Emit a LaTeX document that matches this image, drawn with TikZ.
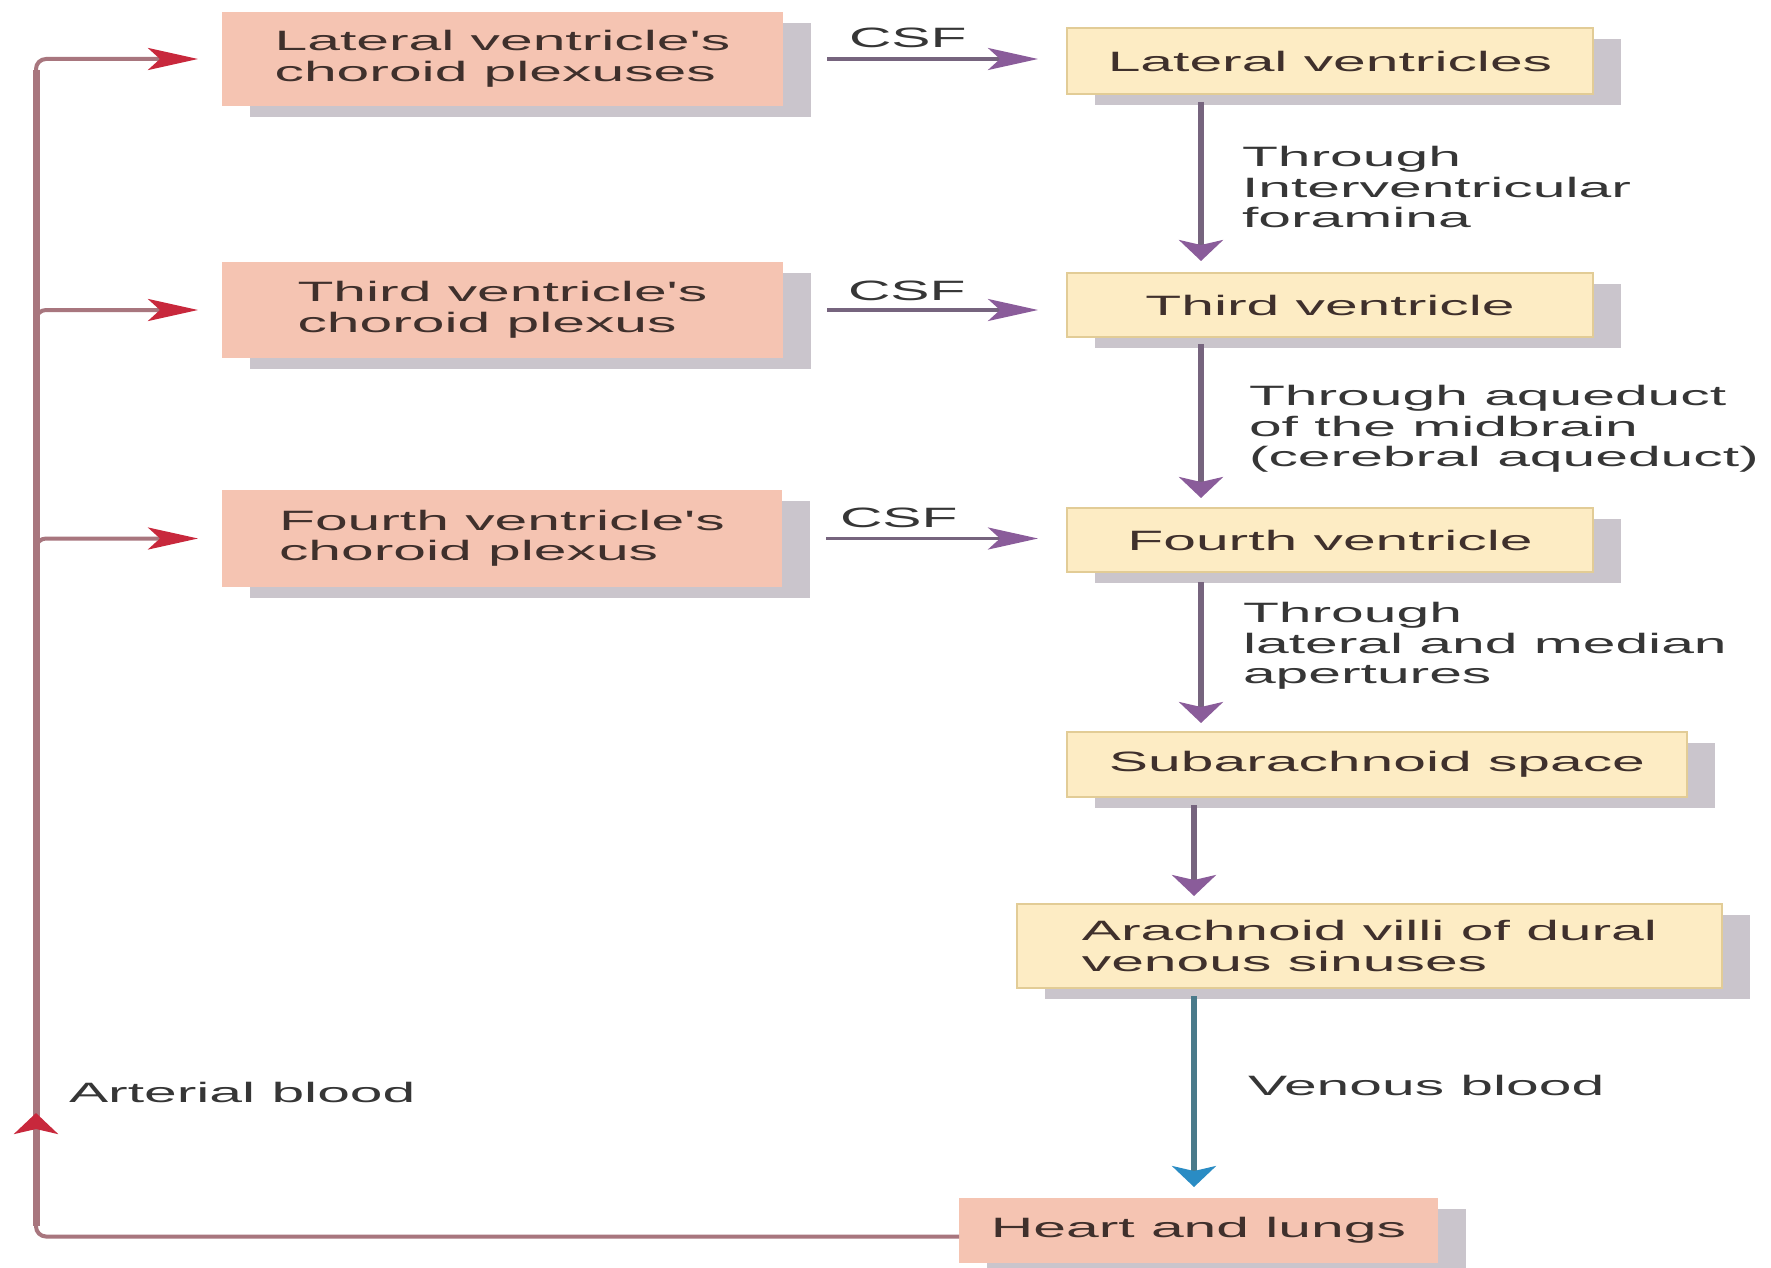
\documentclass[tikz,border=0pt]{standalone}
\usepackage{fontspec}
\setmainfont{Liberation Sans}
\newfontfamily\widesans[FakeStretch=2.1]{Liberation Sans}
\usetikzlibrary{arrows.meta,shadows,calc}
\definecolor{pinkface}{HTML}{F5C4B2}
\definecolor{shadowgray}{HTML}{CAC5CC}
\definecolor{yellowface}{HTML}{FDECC4}
\definecolor{yellowedge}{HTML}{E2CC96}
\definecolor{boxtext}{HTML}{3F302C}
\definecolor{lbltext}{HTML}{363636}
\definecolor{redln}{HTML}{A8767E}
\definecolor{redhead}{HTML}{C8283C}
\definecolor{purpleln}{HTML}{76647E}
\definecolor{purplehead}{HTML}{8A5C9A}
\definecolor{blueln}{HTML}{4A7A8A}
\definecolor{bluehead}{HTML}{2A8CC4}
\begin{document}
\begin{tikzpicture}[x=1pt,y=-1pt,
  every node/.style={inner sep=0pt, outer sep=0pt, font=\widesans\fontsize{28}{30.5}\selectfont},
  shadowed/.style={general shadow={shadow xshift=28pt, shadow yshift=-11pt, fill=shadowgray, opacity=1}},
  pinkbox/.style={fill=pinkface, shadowed, text=boxtext, align=left},
  yellowbox/.style={draw=yellowedge, line width=2pt, fill=yellowface, shadowed, text=boxtext, align=left},
  lbl/.style={text=lbltext, align=left},
  htip/.style={-{Stealth[length=50pt,width=22pt,inset=12pt,color=#1,fill=#1]}},
  vtip/.style={-{Stealth[length=21pt,width=44pt,inset=5pt,color=#1,fill=#1]}},
  redline/.style={draw=redln, line width=4pt},
  csfline/.style={draw=purpleln, line width=3.5pt, htip=purplehead},
  flowline/.style={draw=purpleln, line width=6.5pt, vtip=purplehead},
  bloodline/.style={draw=blueln, line width=6.5pt, vtip=bluehead}
]
\fill[white] (0,0) rectangle (1771,1268);
\useasboundingbox (0,0) rectangle (1771,1268);

% pink boxes
\node[pinkbox, minimum width=561pt, minimum height=94pt] (p1) at (502.5,59) {Lateral ventricle's\\choroid plexuses};
\node[pinkbox, minimum width=561pt, minimum height=96pt] (p2) at (502.5,310) {Third ventricle's\\choroid plexus};
\node[pinkbox, minimum width=560pt, minimum height=97pt] (p3) at (502,538.5) {Fourth ventricle's\\choroid plexus};
\node[pinkbox, minimum width=479pt, minimum height=65pt] (heart) at (1198.5,1230.5) {Heart and lungs};

% yellow boxes
\node[yellowbox, minimum width=526pt, minimum height=66pt] (lv) at (1330,61) {Lateral ventricles};
\node[yellowbox, minimum width=526pt, minimum height=64pt] (tv) at (1330,305) {Third ventricle};
\node[yellowbox, minimum width=526pt, minimum height=64pt] (fv) at (1330,540) {Fourth ventricle};
\node[yellowbox, minimum width=620pt, minimum height=65pt] (sas) at (1377,764.5) {Subarachnoid space};
\node[yellowbox, minimum width=705pt, minimum height=84pt] (av) at (1369.5,946) {Arachnoid villi of dural\\venous sinuses};

% labels
\node[lbl, anchor=base west] (csf1) at (849,48) {CSF};
\node[lbl, anchor=base west] (csf2) at (848,300) {CSF};
\node[lbl, anchor=base west] (csf3) at (840,527) {CSF};
\node[lbl, anchor=north west] (t1) at (1242,146.5) {Through\\Interventricular\\foramina};
\node[lbl, anchor=north west] (t2) at (1249,385.5) {Through aqueduct\\of the midbrain\\(cerebral aqueduct)};
\node[lbl, anchor=north west] (t3) at (1243,602.5) {Through\\lateral and median\\apertures};
\node[lbl, anchor=base west] (vb) at (1248,1095) {Venous blood};
\node[lbl, anchor=base west] (abl) at (69,1102) {Arterial blood};

% helper coordinates
\coordinate (redx) at (36,0);
\coordinate (colA) at (1201,0);
\coordinate (colB) at (1194,0);
\coordinate (uptip) at (36,1113);

% CSF arrows
\draw[csfline, shorten <=44pt, shorten >=29pt] (p1.east) -- (p1.east -| lv.west);
\draw[csfline, shorten <=44pt, shorten >=29pt] (p2.east) -- (p2.east -| tv.west);
\draw[csfline, shorten <=44pt, shorten >=29pt] (p3.east) -- (p3.east -| fv.west);

% CSF flow down
\draw[flowline, shorten <=8pt, shorten >=12pt] (lv.south -| colA) -- (tv.north -| colA);
\draw[flowline, shorten <=7pt, shorten >=10pt] (tv.south -| colA) -- (fv.north -| colA);
\draw[flowline, shorten <=10pt, shorten >=9pt] (fv.south -| colA) -- (sas.north -| colA);
\draw[flowline, shorten <=8pt, shorten >=8pt] (sas.south -| colB) -- (av.north -| colB);
\draw[bloodline, shorten <=8pt, shorten >=11pt] (av.south -| colB) -- (heart.north -| colB);

% arterial return
\draw[redline, line width=7pt] (redx |- 0,70) -- (redx |- 0,1226);
\draw[redline, rounded corners=10pt, vtip=redhead] ([yshift=-6pt]heart.west) -| (uptip);
\draw[redline, rounded corners=10pt, htip=redhead, shorten >=24pt] (uptip) |- (p1.west);
\draw[redline, rounded corners=10pt, htip=redhead, shorten >=24pt] (redx |- 0,340) |- (p2.west);
\draw[redline, rounded corners=10pt, htip=redhead, shorten >=24pt] (redx |- 0,568) |- (p3.west);
\end{tikzpicture}
\end{document}
